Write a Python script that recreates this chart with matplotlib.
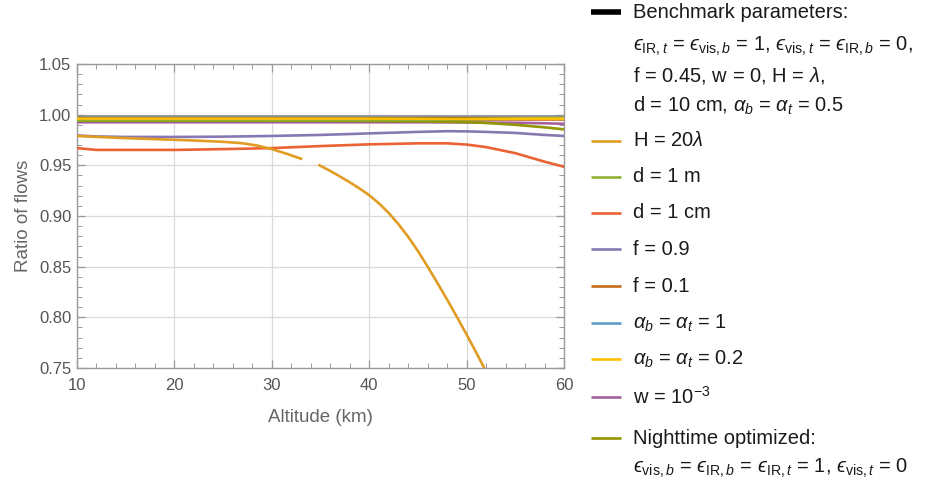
import matplotlib
matplotlib.use("Agg")
import matplotlib.pyplot as plt
import numpy as np
from matplotlib.lines import Line2D
from matplotlib.ticker import MultipleLocator

plt.rcParams['font.family'] = ['Liberation Sans', 'DejaVu Sans']
plt.rcParams['mathtext.fontset'] = 'custom'
plt.rcParams['mathtext.rm'] = 'Liberation Sans'
plt.rcParams['mathtext.it'] = 'Liberation Sans:italic'
plt.rcParams['mathtext.bf'] = 'Liberation Sans:bold'
plt.rcParams['mathtext.fallback'] = 'stixsans'

# ---------------- data ----------------
alt = [10, 12, 15, 20, 25, 30, 35, 40, 45, 48, 50, 52, 55, 58, 60]

benchmark = [0.9967] * 15
alpha_1 = [0.9990] * 15
alpha_02 = [0.9962, 0.9962, 0.9962, 0.9962, 0.9962, 0.9962, 0.9962, 0.9962,
            0.9961, 0.9960, 0.9960, 0.9960, 0.9960, 0.9960, 0.9960]
f_01 = [0.9954] * 15
d_1m = [0.9946, 0.9946, 0.9946, 0.9946, 0.9946, 0.9946, 0.9946, 0.9947,
        0.9950, 0.9953, 0.9955, 0.9958, 0.9962, 0.9966, 0.9968]
night = [0.9940, 0.9940, 0.9940, 0.9940, 0.9940, 0.9940, 0.9940, 0.9938,
         0.9934, 0.9930, 0.9926, 0.9918, 0.9900, 0.9875, 0.9855]
w_1e3 = [0.9925, 0.9925, 0.9925, 0.9925, 0.9925, 0.9925, 0.9925, 0.9925,
         0.9925, 0.9924, 0.9923, 0.9922, 0.9920, 0.9915, 0.9910]
f_09 = [0.9795, 0.9785, 0.9780, 0.9780, 0.9783, 0.9790, 0.9800, 0.9815,
        0.9830, 0.9837, 0.9835, 0.9830, 0.9820, 0.9800, 0.9790]
d_1cm = [0.9670, 0.9652, 0.9652, 0.9652, 0.9660, 0.9670, 0.9690, 0.9707,
         0.9717, 0.9717, 0.9705, 0.9680, 0.9620, 0.9536, 0.9486]

# H = 20 lambda (two pieces, gap between)
alt_H_a = [10, 14, 18.5, 22, 25, 27, 28.5, 30, 31.5, 33.0]
H20_a = [0.9790, 0.9772, 0.9757, 0.9745, 0.9732, 0.9718, 0.9695, 0.9660,
         0.9615, 0.9565]
alt_H_b = [34.9, 36, 37, 38, 39, 40, 41, 42, 43, 44, 45, 46, 47, 48, 49,
           50, 51, 52]
H20_b = [0.9500, 0.9445, 0.9390, 0.9333, 0.9272, 0.9205, 0.9125, 0.9030,
         0.8920, 0.8795, 0.8655, 0.8500, 0.8340, 0.8175, 0.8005, 0.7830,
         0.7650, 0.7465]

x_ticks = [10, 20, 30, 40, 50, 60]
y_ticks = [0.75, 0.80, 0.85, 0.90, 0.95, 1.00, 1.05]

colors = {
    'bench': '#000000',
    'H20': '#E19C24',
    'd1m': '#8FB032',
    'd1cm': '#EB6235',
    'f09': '#8778B3',
    'f01': '#C56E1A',
    'a1': '#5D9EC7',
    'a02': '#FFBF00',
    'w': '#A5609D',
    'night': '#929600',
}

# ---------------- figure ----------------
W, H = 925, 486
fig = plt.figure(figsize=(W / 100, H / 100), dpi=100)
ax = fig.add_axes([77 / W, 1 - 368 / H, (564 - 77) / W, (368 - 64) / H])

lw = 1.9
ax.plot(alt, alpha_1, color='#8c9096', lw=lw, zorder=2)
ax.plot(alt, benchmark, color=colors['bench'], lw=lw, zorder=2)
ax.plot(alt, f_01, color=colors['f01'], lw=lw, zorder=3)
ax.plot(alt, w_1e3, color=colors['w'], lw=lw, zorder=3)
ax.plot(alt, night, color=colors['night'], lw=lw, zorder=4)
ax.plot(alt, d_1m, color=colors['d1m'], lw=lw, zorder=4)
ax.plot(alt, alpha_02, color=colors['a02'], lw=lw, zorder=5)
ax.plot(alt, f_09, color=colors['f09'], lw=lw, zorder=3)
ax.plot(alt, d_1cm, color=colors['d1cm'], lw=lw, zorder=3)
ax.plot(alt_H_a, H20_a, color=colors['H20'], lw=lw, zorder=3)
ax.plot(alt_H_b, H20_b, color=colors['H20'], lw=lw, zorder=3)

ax.set_xlim(10, 60)
ax.set_ylim(0.75, 1.05)
ax.set_xticks(x_ticks)
ax.set_yticks(y_ticks)
ax.set_yticklabels([f"{v:.2f}" for v in y_ticks])
ax.xaxis.set_minor_locator(MultipleLocator(2))
ax.yaxis.set_minor_locator(MultipleLocator(0.01))
ax.grid(True, which='major', color='#d9d9d9', lw=0.9)
ax.set_axisbelow(True)
frame_c = '#9a9a9a'
for s in ax.spines.values():
    s.set_color(frame_c)
    s.set_linewidth(1.0)
ax.tick_params(which='both', direction='in', top=True, right=True,
               color=frame_c, labelcolor='#555555', labelsize=12)
ax.tick_params(which='major', length=6, width=0.9)
ax.tick_params(which='minor', length=3.5, width=0.7)
ax.tick_params(axis='x', pad=7)
ax.tick_params(axis='y', pad=4)
ax.set_xlabel('Altitude (km)', fontsize=13.5, color='#666666', labelpad=12)
ax.set_ylabel('Ratio of flows', fontsize=13.5, color='#666666', labelpad=5)

# ---------------- legend (drawn manually) ----------------
E = '\u03f5'
legend_entries = [
    ('bench', ['Benchmark parameters:',
               rf'${E}_{{\mathrm{{IR}},t}}$ = ${E}_{{\mathrm{{vis}},b}}$ = 1, ${E}_{{\mathrm{{vis}},t}}$ = ${E}_{{\mathrm{{IR}},b}}$ = 0,',
               r'f = 0.45, w = 0, H = $\lambda$,',
               r'd = 10 cm, $\alpha_b$ = $\alpha_t$ = 0.5'], 12.5),
    ('H20', [r'H = 20$\lambda$'], 140.7),
    ('d1m', ['d = 1 m'], 176.7),
    ('d1cm', ['d = 1 cm'], 212.7),
    ('f09', ['f = 0.9'], 249.3),
    ('f01', ['f = 0.1'], 286.0),
    ('a1', [r'$\alpha_b$ = $\alpha_t$ = 1'], 323.3),
    ('a02', [r'$\alpha_b$ = $\alpha_t$ = 0.2'], 359.3),
    ('w', [r'w = 10$^{-3}$'], 397.3),
    ('night', ['Nighttime optimized:',
               rf'${E}_{{\mathrm{{vis}},b}}$ = ${E}_{{\mathrm{{IR}},b}}$ = ${E}_{{\mathrm{{IR}},t}}$ = 1, ${E}_{{\mathrm{{vis}},t}}$ = 0'], 438.3),
]
line_offsets = [0, 34.2, 62.5, 93.5]
hx0, hx1, tx = 591, 621, 633
for key, lines, py in legend_entries:
    lwh = 4.0 if key == 'bench' else 1.9
    fig.add_artist(Line2D([hx0 / W, hx1 / W], [1 - py / H, 1 - py / H],
                          transform=fig.transFigure, color=colors[key], lw=lwh,
                          solid_capstyle='butt'))
    for i, t in enumerate(lines):
        off = line_offsets[i] if key == 'bench' else 30.0 * i
        fig.text(tx / W, 1 - (py + off) / H, t, fontsize=14.5, color='#1a1a1a',
                 ha='left', va='center')

fig.savefig('out.png', dpi=100)
